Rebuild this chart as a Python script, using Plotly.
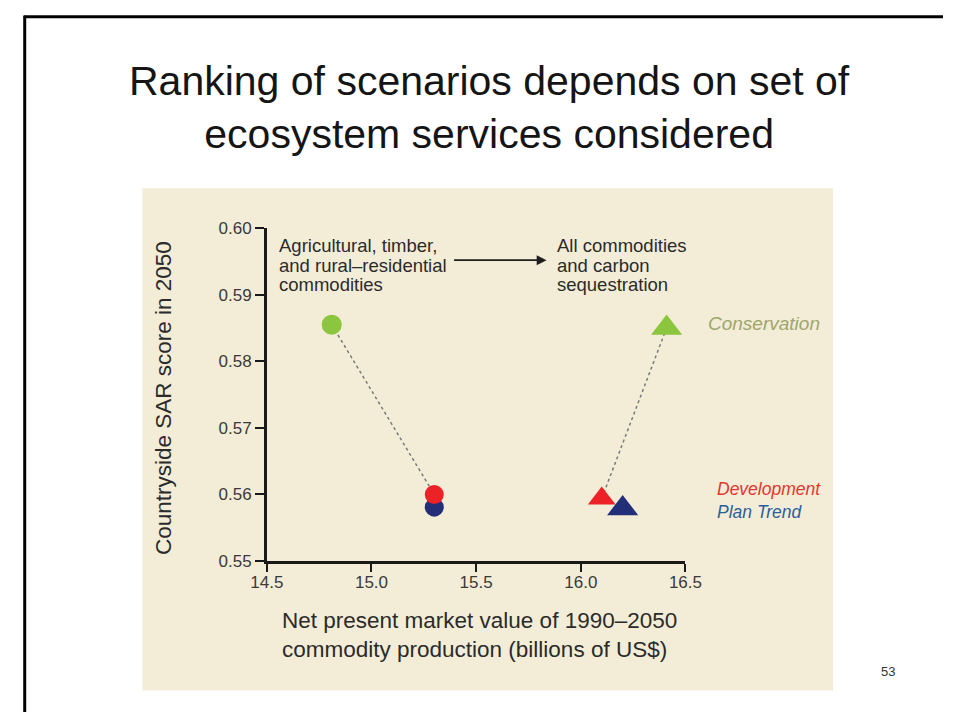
import plotly.graph_objects as go

# Scenario results: SAR biodiversity score vs. net present commodity value
scenarios = ["Conservation", "Development", "Plan Trend"]
colors = ["#8cc63f", "#ec2227", "#232e78"]
label_colors = ["#9ea66e", "#e2372f", "#2e5d9c"]

# Agricultural, timber and rural-residential commodities only (circles)
npv_commodities = [14.81, 15.30, 15.30]
sar_commodities = [0.5855, 0.5600, 0.5581]

# All commodities plus carbon sequestration (triangles)
npv_all = [16.41, 16.10, 16.20]
sar_all = [0.5850, 0.5594, 0.5579]

x_ticks = [14.5, 15.0, 15.5, 16.0, 16.5]
y_ticks = [0.55, 0.56, 0.57, 0.58, 0.59, 0.60]

note_left = ["Agricultural, timber,", "and rural–residential", "commodities"]
note_right = ["All commodities", "and carbon", "sequestration"]

W, H = 960, 722


def px(x):
    return x / W


def py(y):
    return 1 - y / H


FONT = "Liberation Sans, Arial, Helvetica, sans-serif"

fig = go.Figure()

# Dotted connectors from Conservation to Development in each accounting set
fig.add_trace(go.Scatter(
    x=[npv_commodities[0], npv_commodities[1]],
    y=[sar_commodities[0], sar_commodities[1]],
    mode="lines", line=dict(color="#7a7a7a", width=1.5, dash="dot"),
    hoverinfo="skip", showlegend=False))
fig.add_trace(go.Scatter(
    x=[npv_all[1], npv_all[0]],
    y=[sar_all[1], sar_all[0]],
    mode="lines", line=dict(color="#7a7a7a", width=1.5, dash="dot"),
    hoverinfo="skip", showlegend=False))

# Circles: blue under red
for i in [0, 2, 1]:
    fig.add_trace(go.Scatter(
        x=[npv_commodities[i]], y=[sar_commodities[i]], mode="markers",
        marker=dict(symbol="circle", size=20 if i == 0 else 19,
                    color=colors[i], line=dict(width=0)),
        name=scenarios[i], showlegend=False))

# Triangles: red under blue
for i in [0, 1, 2]:
    fig.add_trace(go.Scatter(
        x=[npv_all[i]], y=[sar_all[i]], mode="markers",
        marker=dict(symbol="triangle-up", size=27 if i != 1 else 24,
                    color=colors[i], line=dict(width=0)),
        name=scenarios[i], showlegend=False))

annotations = [
    # Title
    dict(text="Ranking of scenarios depends on set of<br>ecosystem services considered",
         x=px(490), y=py(101), xref="paper", yref="paper", showarrow=False,
         font=dict(family=FONT, size=41, color="#151515"), align="center",
         xanchor="center", yanchor="middle"),
    # Arrow between the two accounting sets
    dict(text="", x=px(549), y=py(258), xref="paper", yref="paper",
         ax=-94, ay=0, axref="pixel", ayref="pixel",
         showarrow=True, arrowhead=2, arrowsize=1.1, arrowwidth=1.8,
         arrowcolor="#1e1e1e"),
    # Axis titles
    dict(text="Countryside SAR score in 2050", x=px(152), y=py(400),
         xref="paper", yref="paper", showarrow=False, textangle=-90,
         font=dict(family=FONT, size=22.5, color="#2b2b2b"),
         xanchor="center", yanchor="middle"),
    dict(text="Net present market value of 1990–2050<br>commodity production (billions of US$)",
         x=px(273), y=py(643), xref="paper", yref="paper", showarrow=False,
         font=dict(family=FONT, size=22.5, color="#2b2b2b"), align="left",
         xanchor="left", yanchor="middle"),
    # Page number
    dict(text="53", x=px(903), y=py(680), xref="paper", yref="paper",
         showarrow=False, font=dict(family=FONT, size=13, color="#333333"),
         xanchor="center", yanchor="middle"),
    # Scenario labels
    dict(text=f"<i>{scenarios[0]}</i>", x=px(714), y=py(323),
         xref="paper", yref="paper", showarrow=False,
         font=dict(family=FONT, size=19, color=label_colors[0]),
         xanchor="left", yanchor="middle"),
    dict(text=(f"<span style='color:{label_colors[1]}'><i>{scenarios[1]}</i></span><br>"
               f"<span style='color:{label_colors[2]}'><i>{scenarios[2]}</i></span>"),
         x=px(724), y=py(505), xref="paper", yref="paper", showarrow=False,
         font=dict(family=FONT, size=17.5, color=label_colors[1]), align="left",
         xanchor="left", yanchor="middle"),
]

# Notes inside the plot, one line each for tight spacing
for k, (left, right) in enumerate(zip(note_left, note_right)):
    yy = 243 + 20 * k
    annotations.append(dict(
        text=left, x=px(270), y=py(yy), xref="paper", yref="paper",
        showarrow=False, font=dict(family=FONT, size=18.5, color="#2b2b2b"),
        xanchor="left", yanchor="middle"))
    annotations.append(dict(
        text=right, x=px(558), y=py(yy), xref="paper", yref="paper",
        showarrow=False, font=dict(family=FONT, size=18.5, color="#2b2b2b"),
        xanchor="left", yanchor="middle"))

shapes = [
    # Beige figure panel
    dict(type="rect", xref="paper", yref="paper", x0=px(130), x1=px(846),
         y0=py(700), y1=py(184), fillcolor="#f3edd7", line=dict(width=0),
         layer="below"),
    # Slide frame
    dict(type="line", xref="paper", yref="paper", x0=px(7), x1=px(W),
         y0=py(8), y1=py(8), line=dict(color="black", width=3)),
    dict(type="line", xref="paper", yref="paper", x0=px(8), x1=px(8),
         y0=py(7), y1=py(H), line=dict(color="black", width=3)),
]

fig.update_layout(
    width=W, height=H,
    margin=dict(l=0, r=0, t=0, b=0),
    paper_bgcolor="white", plot_bgcolor="white",
    showlegend=False,
    annotations=annotations, shapes=shapes,
    xaxis=dict(domain=[px(259), px(693)], range=[14.5, 16.5],
               tickvals=x_ticks, ticktext=[f"{v:.1f}" for v in x_ticks],
               showline=True, linecolor="#1a1a1a", linewidth=2.5,
               ticks="outside", ticklen=8, tickwidth=1.5, tickcolor="#1a1a1a",
               ticklabelstandoff=-4,
               showgrid=False, zeroline=False,
               tickfont=dict(family=FONT, size=17, color="#3a3a3a")),
    yaxis=dict(domain=[py(567), py(225)], range=[0.55, 0.60],
               tickvals=y_ticks, ticktext=[f"{v:.2f}" for v in y_ticks],
               showline=True, linecolor="#1a1a1a", linewidth=2.5,
               ticks="outside", ticklen=9, tickwidth=1.5, tickcolor="#1a1a1a",
               showgrid=False, zeroline=False,
               tickfont=dict(family=FONT, size=17, color="#3a3a3a")),
)

# Figure fills the page edge to edge
fig.write_html(
    "out.html",
    post_script=(
        "document.body.style.margin='0';"
        "document.body.style.overflow='hidden';"
        "document.documentElement.style.overflow='hidden';"
    ),
)
